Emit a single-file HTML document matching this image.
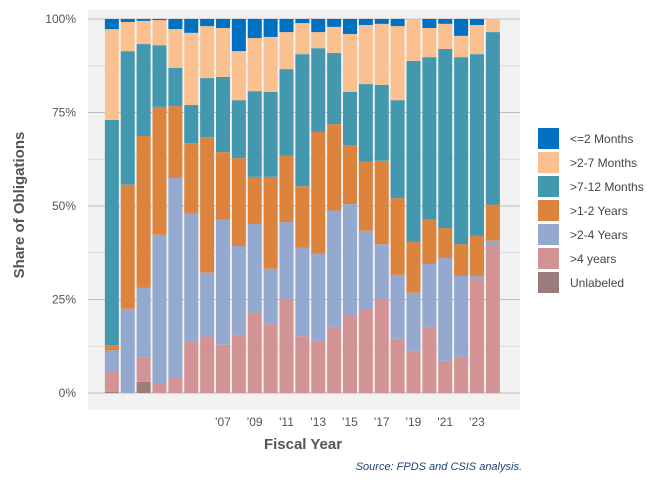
<!DOCTYPE html>
<html><head><meta charset="utf-8"><style>
body{margin:0;background:#fff;font-family:"Liberation Sans",sans-serif;}
svg text{font-family:"Liberation Sans",sans-serif;}
</style></head><body>
<svg id="chart" width="672" height="480">
<rect x="0" y="0" width="672" height="480" fill="#ffffff"/>
<rect x="88" y="10" width="432" height="400" fill="#f2f2f2"/>
<g id="grid"></g><g id="bars"></g><g id="axes"></g><g id="legend"></g>
<text x="24" y="205" transform="rotate(-90 24 205)" text-anchor="middle" font-size="15" font-weight="bold" fill="#555">Share of Obligations</text>
<text x="303" y="449" text-anchor="middle" font-size="15" font-weight="bold" fill="#555">Fiscal Year</text>
<text x="522" y="470" text-anchor="end" font-size="11" font-style="italic" fill="#1f3f73">Source: FPDS and CSIS analysis.</text>
</svg>
<script>
const years=[2000,2001,2002,2003,2004,2005,2006,2007,2008,2009,2010,2011,2012,2013,2014,2015,2016,2017,2018,2019,2020,2021,2022,2023,2024];
const seriesNames=["Unlabeled",">4 years",">2-4 Years",">1-2 Years",">7-12 Months",">2-7 Months","<=2 Months"];
const unlabeled=[0.3,0,3.0,0,0,0,0,0,0,0,0,0,0,0,0,0,0,0,0,0,0,0,0,0,0];
const over4y=[5.6,0,6.4,2.4,4.0,13.6,15.1,12.9,15.6,21.5,18.4,24.9,15.2,14.0,17.7,20.6,22.2,24.9,14.5,11.3,17.7,8.6,9.7,30.6,39.3];
const y2to4=[5.5,22.5,18.7,39.9,53.5,34.3,17.1,33.4,23.7,23.7,14.8,20.8,23.6,23.2,31.1,29.9,21.2,14.9,17.1,15.5,16.8,27.5,21.6,0.7,1.4];
const y1to2=[1.4,33.2,40.6,34.2,19.2,18.9,36.2,18.1,23.5,12.6,24.6,17.7,16.5,32.6,23.1,15.8,18.4,22.3,20.5,13.6,11.8,8.0,8.5,10.7,9.7];
const m7to12=[60.2,35.7,24.6,16.5,10.2,10.2,15.8,20.1,15.5,22.9,22.7,23.2,35.3,22.4,19.0,14.2,20.8,20.3,26.2,48.4,43.5,47.9,50.0,48.6,46.1];
const m2to7=[24.3,7.8,6.2,6.7,10.4,19.3,13.9,13.1,13.1,14.2,14.7,9.9,8.3,4.3,7.0,15.5,15.8,16.3,19.8,11.2,7.8,6.7,5.7,7.8,3.5];
const m0to2=[2.7,0.8,0.5,0.3,2.7,3.7,1.9,2.4,8.6,5.1,4.8,3.5,1.1,3.5,2.1,4.0,1.6,1.3,1.9,0,2.4,1.3,4.5,1.6,0];
const yTicks=[0,25,50,75,100];
const yTickLabels=["0%","25%","50%","75%","100%"];
const xTickYears=[2007,2009,2011,2013,2015,2017,2019,2021,2023];
const series=[unlabeled,over4y,y2to4,y1to2,m7to12,m2to7,m0to2];
const colors=["#9b7b7b","#d39394","#95a8d0","#dc843e","#4398b0","#fbc08f","#0070c0"];
const NS="http://www.w3.org/2000/svg";
const xS=yr=>223+(yr-2007)*15.875;
const yS=v=>393-v*3.74;
function mk(tag,attrs,parent){const e=document.createElementNS(NS,tag);for(const k in attrs)e.setAttribute(k,attrs[k]);parent.appendChild(e);return e;}
const grid=document.getElementById('grid'),bars=document.getElementById('bars'),axes=document.getElementById('axes'),legend=document.getElementById('legend');
for(let v=12.5;v<100;v+=25){const l=mk('line',{x1:88,x2:520,y1:yS(v),y2:yS(v),stroke:'#d6d6d6','stroke-width':0.8},grid);

}
yTicks.forEach((v,i)=>{const l=mk('line',{x1:88,x2:520,y1:yS(v),y2:yS(v),stroke:'#bdbdbd','stroke-width':1},grid);


const t=mk('text',{x:76,y:yS(v)+4,'text-anchor':'end','font-size':12,fill:'#555'},axes);t.textContent=yTickLabels[i];

});
xTickYears.forEach(yr=>{const t=mk('text',{x:xS(yr),y:426,'text-anchor':'middle','font-size':12,fill:'#555'},axes);t.textContent="'"+String(yr).slice(2);

});
years.forEach((yr,i)=>{let cum=0;series.forEach((s,j)=>{const v=s[i];if(v<=0)return;
const r=mk('rect',{x:xS(yr)-7,y:yS(cum+v),width:14,height:v*3.74,fill:colors[j]},bars);


cum+=v;});});
const legOrder=[6,5,4,3,2,1,0];
legOrder.forEach((j,k)=>{const y=128+k*24;
const r=mk('rect',{x:538,y:y,width:21,height:21,fill:colors[j]},legend);


const t=mk('text',{x:570,y:y+15,'font-size':12,fill:'#444'},legend);t.textContent=seriesNames[j];

});
</script>
</body></html>
